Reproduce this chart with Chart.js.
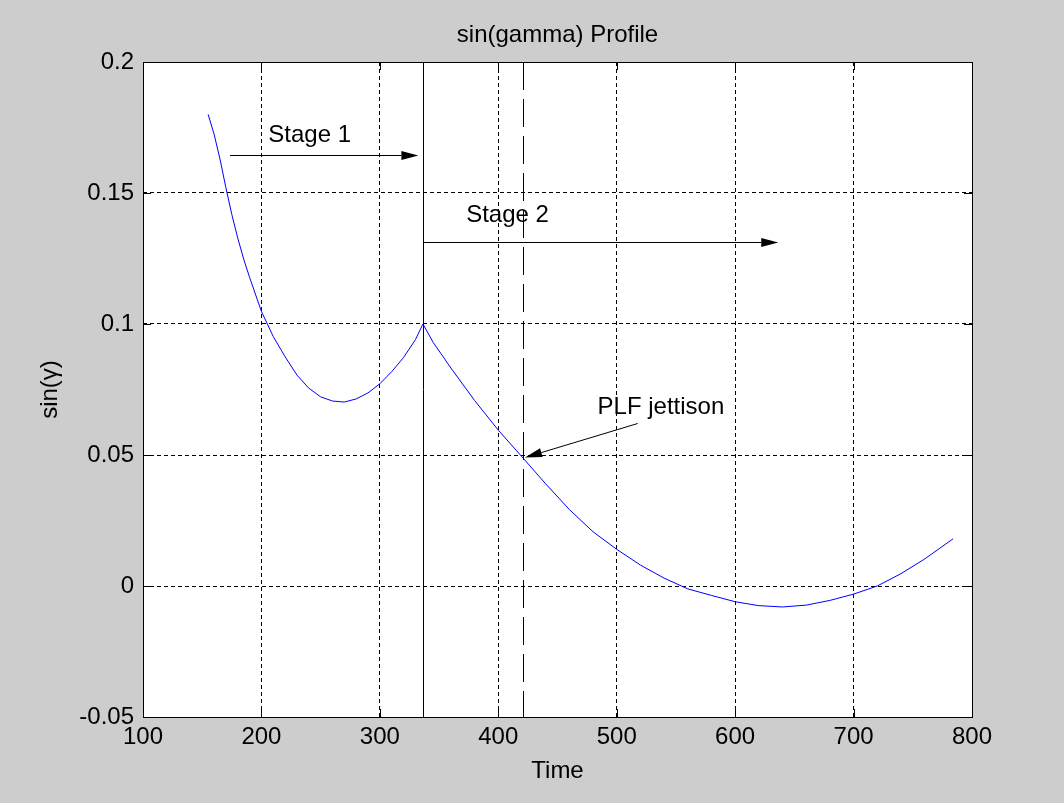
<!DOCTYPE html>
<html>
<head>
<meta charset="utf-8">
<title>sin(gamma) Profile</title>
<script src="https://cdn.jsdelivr.net/npm/chart.js@4.4.1/dist/chart.umd.min.js"></script>
<style>
    html, body { margin: 0; padding: 0; background: #cdcdcd; }
    #wrap { width: 1064px; height: 803px; }
</style>
</head>
<body>
<div id="wrap"><canvas id="gamma-chart" width="1064" height="803"></canvas></div>
<script>
// curve
const timeSec = [155, 160, 165, 170, 175, 180, 185, 190, 200, 210, 220, 230, 240, 250, 260, 270, 280, 290, 300, 310, 320, 330, 336.4,
    345, 360, 380, 400, 420, 440, 460, 480, 500, 520, 540, 560, 580, 600, 620, 640, 660, 680, 700, 720, 740, 760, 784];
const sinGamma = [0.180, 0.1725, 0.163, 0.152, 0.1418, 0.1328, 0.1248, 0.1178, 0.1048, 0.0952, 0.0875, 0.0805, 0.0755, 0.0722,
    0.0706, 0.0702, 0.0714, 0.0737, 0.0772, 0.0818, 0.0872, 0.094, 0.1,
    0.093, 0.0832, 0.0708, 0.0595, 0.0493, 0.039, 0.0292, 0.0207, 0.0140, 0.0080, 0.0030, -0.0011, -0.0036, -0.0060,
    -0.0075, -0.0080, -0.0073, -0.0055, -0.0031, 0.0000, 0.0047, 0.0103, 0.018];

const xTicks = [100, 200, 300, 400, 500, 600, 700, 800];
const yTicks = [-0.05, 0, 0.05, 0.1, 0.15, 0.2];
const yTickLabels = ['-0.05', '0', '0.05', '0.1', '0.15', '0.2'];

const chartTitle = 'sin(gamma) Profile';

// event markers (time)
const stageSepTime = 336.4;
const plfTime = 421.1;

// annotations: [text, x, y] and arrows [x0, y0, x1, y1] in data units
const noteTexts = [['Stage 1', 240.7, 0.1694], ['Stage 2', 407.8, 0.1390], ['PLF jettison', 537.3, 0.0657]];
const noteArrows = [[173.5, 0.1645, 332.5, 0.1645], [336.4, 0.1312, 636.4, 0.1312], [517.7, 0.0623, 422.6, 0.0494]];

const FONT = "'Liberation Sans', Arial, sans-serif";

function arrow(ctx, x0, y0, x1, y1) {
    const ang = Math.atan2(y1 - y0, x1 - x0);
    const len = 17, half = 4.5;
    ctx.beginPath();
    ctx.moveTo(x0, y0);
    ctx.lineTo(x1 - Math.cos(ang) * len, y1 - Math.sin(ang) * len);
    ctx.stroke();
    ctx.beginPath();
    ctx.moveTo(x1, y1);
    ctx.lineTo(x1 - Math.cos(ang) * len - Math.sin(ang) * half, y1 - Math.sin(ang) * len + Math.cos(ang) * half);
    ctx.lineTo(x1 - Math.cos(ang) * len + Math.sin(ang) * half, y1 - Math.sin(ang) * len - Math.cos(ang) * half);
    ctx.closePath();
    ctx.fill();
}

const matlabLook = {
    id: 'matlabLook',
    beforeDraw(chart) {
        const ctx = chart.ctx;
        const a = chart.chartArea;
        ctx.save();
        ctx.fillStyle = '#cdcdcd';
        ctx.fillRect(0, 0, chart.width, chart.height);
        ctx.fillStyle = '#ffffff';
        ctx.fillRect(a.left, a.top, a.right - a.left, a.bottom - a.top);
        ctx.restore();
    },
    afterDatasetsDraw(chart) {
        const ctx = chart.ctx;
        const a = chart.chartArea;
        const xs = chart.scales.x, ys = chart.scales.y;
        ctx.save();
        ctx.beginPath();
        ctx.rect(a.left, a.top, a.right - a.left, a.bottom - a.top);
        ctx.clip();
        ctx.strokeStyle = '#000';
        ctx.fillStyle = '#000';
        ctx.lineWidth = 1;

        // stage separation (solid) and PLF jettison (dashed)
        let px = Math.round(xs.getPixelForValue(stageSepTime)) + 0.5;
        ctx.beginPath();
        ctx.moveTo(px, a.top);
        ctx.lineTo(px, a.bottom);
        ctx.stroke();
        px = Math.round(xs.getPixelForValue(plfTime)) + 0.5;
        ctx.setLineDash([28, 9]);
        ctx.beginPath();
        ctx.moveTo(px, a.top);
        ctx.lineTo(px, a.bottom);
        ctx.stroke();
        ctx.setLineDash([]);

        noteArrows.forEach(r => {
            arrow(ctx, xs.getPixelForValue(r[0]), Math.round(ys.getPixelForValue(r[1])) + 0.5,
                xs.getPixelForValue(r[2]), Math.round(ys.getPixelForValue(r[3])) + 0.5);
        });
        ctx.restore();

        ctx.save();
        ctx.font = '24px ' + FONT;
        ctx.fillStyle = '#000';
        ctx.textAlign = 'center';
        ctx.textBaseline = 'alphabetic';
        noteTexts.forEach(t => {
            ctx.fillText(t[0], xs.getPixelForValue(t[1]), ys.getPixelForValue(t[2]));
        });
        ctx.restore();
    },
    afterDraw(chart) {
        const ctx = chart.ctx;
        const a = chart.chartArea;
        const xs = chart.scales.x, ys = chart.scales.y;
        const tl = 8;
        ctx.save();
        ctx.strokeStyle = '#000';
        ctx.lineWidth = 1;
        ctx.beginPath();
        xTicks.forEach(v => {
            const p = Math.round(xs.getPixelForValue(v)) + 0.5;
            ctx.moveTo(p, a.bottom); ctx.lineTo(p, a.bottom - tl);
            ctx.moveTo(p, a.top); ctx.lineTo(p, a.top + tl);
        });
        yTicks.forEach(v => {
            const p = Math.round(ys.getPixelForValue(v)) + 0.5;
            ctx.moveTo(a.left, p); ctx.lineTo(a.left + tl, p);
            ctx.moveTo(a.right, p); ctx.lineTo(a.right - tl, p);
        });
        ctx.stroke();
        ctx.strokeRect(Math.round(a.left) + 0.5, Math.round(a.top) + 0.5,
            Math.round(a.right - a.left), Math.round(a.bottom - a.top));

        // title centred over the axes box, like matlab does it
        ctx.font = '24px ' + FONT;
        ctx.fillStyle = '#000';
        ctx.textAlign = 'center';
        ctx.textBaseline = 'middle';
        ctx.fillText(chartTitle, (a.left + a.right) / 2, 35.5);
        ctx.restore();
    }
};

const points = timeSec.map((t, i) => ({ x: t, y: sinGamma[i] }));

const chartConfig = {
    type: 'line',
    data: {
        datasets: [{
            label: 'sin(gamma)',
            data: points,
            borderColor: '#0000ff',
            borderWidth: 1,
            pointRadius: 0,
            fill: false,
            tension: 0
        }]
    },
    options: {
        responsive: false,
        animation: false,
        layout: { padding: { left: 0, top: 62, right: 92, bottom: 0 } },
        plugins: {
            legend: { display: false },
            tooltip: { enabled: false },
            title: { display: false }
        },
        scales: {
            x: {
                type: 'linear',
                min: 100,
                max: 800,
                afterBuildTicks: s => { s.ticks = xTicks.map(v => ({ value: v })); },
                afterFit: s => { s.height = 86; },
                ticks: {
                    color: '#000',
                    padding: 6,
                    maxRotation: 0,
                    font: { family: FONT, size: 24 },
                    callback: v => String(v)
                },
                grid: { color: '#000', lineWidth: 1, drawTicks: false },
                border: { display: false, dash: [4, 3] },
                title: {
                    display: true,
                    text: 'Time',
                    color: '#000',
                    font: { family: FONT, size: 24 },
                    padding: { top: 0, bottom: 17.6 }
                }
            },
            y: {
                type: 'linear',
                min: -0.05,
                max: 0.2,
                afterBuildTicks: s => { s.ticks = yTicks.map(v => ({ value: v })); },
                afterFit: s => { s.width = 143; },
                ticks: {
                    color: '#000',
                    padding: 9,
                    font: { family: FONT, size: 24 },
                    callback: (v, i) => yTickLabels[i]
                },
                grid: { color: '#000', lineWidth: 1, drawTicks: false },
                border: { display: false, dash: [4, 3] },
                title: {
                    display: true,
                    text: 'sin(γ)',
                    color: '#000',
                    font: { family: FONT, size: 24 },
                    padding: { top: 35.6, bottom: 0 }
                }
            }
        }
    },
    plugins: [matlabLook]
};

let gammaChart = 0;
const gammaCtx = document.getElementById('gamma-chart');
if (gammaCtx)
    gammaChart = new Chart(gammaCtx.getContext('2d'), chartConfig);
</script>
</body>
</html>
